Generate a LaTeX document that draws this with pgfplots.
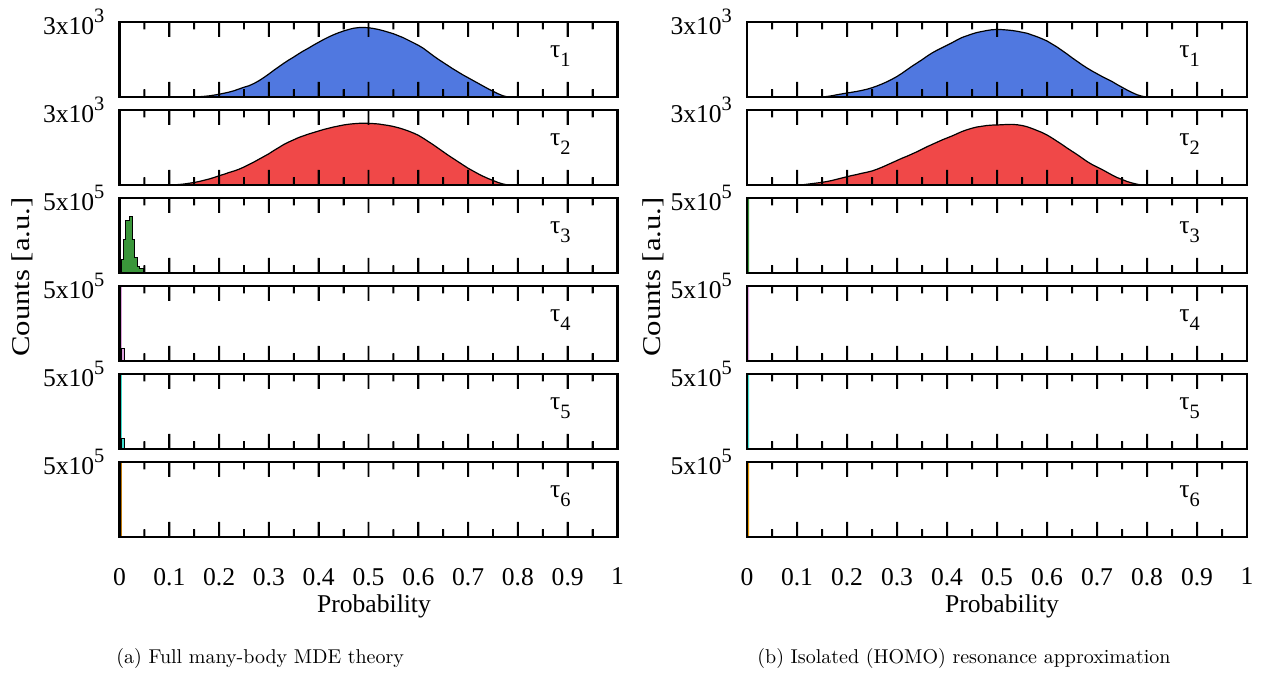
\documentclass[border=0pt]{standalone}
\usepackage{fontspec}
\setmainfont{Liberation Serif}
\newfontfamily\lmr{Latin Modern Roman}
\usepackage{pgfplots}
\usepackage{pgfplotstable}
\pgfplotsset{compat=1.18}
\definecolor{cblue}{RGB}{80,120,224}
\definecolor{cred}{RGB}{240,72,72}
\definecolor{cgreen}{RGB}{58,150,58}
\definecolor{cpink}{RGB}{221,160,221}
\definecolor{ccyan}{RGB}{64,224,208}
\definecolor{corange}{RGB}{230,150,0}
\definecolor{cdorange}{RGB}{190,120,10}
\newcommand\pf{\fontsize{12.8}{15}\selectfont}
\newcommand\sups[1]{\raisebox{6.2pt}{\fontsize{10.2}{11}\selectfont #1}}
\newcommand\subs[1]{\raisebox{-4.2pt}{\fontsize{10.2}{11}\selectfont #1}}
\newcommand\tlab[1]{\node[anchor=base west,inner sep=0pt,font=\pf] at (rel axis cs:0.864,0.52) {τ\subs{#1}};}
% tick marks drawn as thin filled rectangles along the bottom (bs, bb) and top (ts, tb) edges
\pgfplotstableread[row sep=\\]{x bs ts bb tb\\
0 0 3000 0 500000\\
0.048 0 3000 0 500000\\0.048 300 2700 50000 450000\\0.052 300 2700 50000 450000\\0.052 0 3000 0 500000\\
0.098 0 3000 0 500000\\0.098 600 2400 100000 400000\\0.102 600 2400 100000 400000\\0.102 0 3000 0 500000\\
0.148 0 3000 0 500000\\0.148 300 2700 50000 450000\\0.152 300 2700 50000 450000\\0.152 0 3000 0 500000\\
0.198 0 3000 0 500000\\0.198 600 2400 100000 400000\\0.202 600 2400 100000 400000\\0.202 0 3000 0 500000\\
0.248 0 3000 0 500000\\0.248 300 2700 50000 450000\\0.252 300 2700 50000 450000\\0.252 0 3000 0 500000\\
0.298 0 3000 0 500000\\0.298 600 2400 100000 400000\\0.302 600 2400 100000 400000\\0.302 0 3000 0 500000\\
0.348 0 3000 0 500000\\0.348 300 2700 50000 450000\\0.352 300 2700 50000 450000\\0.352 0 3000 0 500000\\
0.398 0 3000 0 500000\\0.398 600 2400 100000 400000\\0.402 600 2400 100000 400000\\0.402 0 3000 0 500000\\
0.448 0 3000 0 500000\\0.448 300 2700 50000 450000\\0.452 300 2700 50000 450000\\0.452 0 3000 0 500000\\
0.498 0 3000 0 500000\\0.498 600 2400 100000 400000\\0.502 600 2400 100000 400000\\0.502 0 3000 0 500000\\
0.548 0 3000 0 500000\\0.548 300 2700 50000 450000\\0.552 300 2700 50000 450000\\0.552 0 3000 0 500000\\
0.598 0 3000 0 500000\\0.598 600 2400 100000 400000\\0.602 600 2400 100000 400000\\0.602 0 3000 0 500000\\
0.648 0 3000 0 500000\\0.648 300 2700 50000 450000\\0.652 300 2700 50000 450000\\0.652 0 3000 0 500000\\
0.698 0 3000 0 500000\\0.698 600 2400 100000 400000\\0.702 600 2400 100000 400000\\0.702 0 3000 0 500000\\
0.748 0 3000 0 500000\\0.748 300 2700 50000 450000\\0.752 300 2700 50000 450000\\0.752 0 3000 0 500000\\
0.798 0 3000 0 500000\\0.798 600 2400 100000 400000\\0.802 600 2400 100000 400000\\0.802 0 3000 0 500000\\
0.848 0 3000 0 500000\\0.848 300 2700 50000 450000\\0.852 300 2700 50000 450000\\0.852 0 3000 0 500000\\
0.898 0 3000 0 500000\\0.898 600 2400 100000 400000\\0.902 600 2400 100000 400000\\0.902 0 3000 0 500000\\
0.948 0 3000 0 500000\\0.948 300 2700 50000 450000\\0.952 300 2700 50000 450000\\0.952 0 3000 0 500000\\
1 0 3000 0 500000\\
}\tk
\pgfplotsset{
  panel/.style={
    scale only axis, height=37.5pt, anchor=south west,
    xmin=0, xmax=1, ymin=0,
    scaled y ticks=false,
    xtick={0,0.1,0.2,0.3,0.4,0.5,0.6,0.7,0.8,0.9,1},
    minor x tick num=1, xticklabels={},
    axis on top,
    axis line style={line width=1.2pt},
    major tick length=7.5pt, minor tick length=3.75pt,
    tick style={black, line width=0.9pt},
    yticklabel style={font=\pf, xshift=-4pt},
    xticklabel style={font=\pf, yshift=-12pt},
  },
  small/.style={ymax=3000, ytick={3000}, yticklabels={3x10\sups{3}}},
  big/.style={ymax=500000, ytick={500000}, yticklabels={5x10\sups{5}}},
  bottom/.style={xticklabels={0,0.1,0.2,0.3,0.4,0.5,0.6,0.7,0.8,0.9,1}},
  hist/.style={sharp plot, mark=none, draw=black, line width=0.6pt, fill=#1},
  bars/.style={const plot, mark=none, draw=black, line width=0.5pt, fill=#1},
  sliver/.style={const plot, mark=none, draw=none, fill=#1},
  tkf/.style={sharp plot, mark=none, draw=none, fill=black},
}
\newcommand\tks{\addplot[tkf] table[x=x,y=bs] {\tk}; \addplot[tkf] table[x=x,y=ts] {\tk};}
\newcommand\tkb{\addplot[tkf] table[x=x,y=bb] {\tk}; \addplot[tkf] table[x=x,y=tb] {\tk};}
\begin{document}
\begin{tikzpicture}
\path (0,0) rectangle (632pt,336.5pt);
% ---------------- LEFT (a) ----------------
\begin{axis}[panel, small, width=249pt, at={(59.75pt,288pt)}]
\addplot[hist=cblue] coordinates {(0.15,0)(0.16,10)(0.17,25)(0.18,45)(0.19,75)(0.20,110)(0.21,150)(0.22,195)(0.23,250)(0.24,320)(0.25,390)(0.26,450)(0.27,540)(0.28,650)(0.29,780)(0.30,920)(0.31,1070)(0.32,1210)(0.33,1350)(0.34,1480)(0.35,1600)(0.36,1730)(0.37,1850)(0.38,1960)(0.39,2080)(0.40,2190)(0.41,2300)(0.42,2400)(0.43,2490)(0.44,2570)(0.45,2640)(0.46,2700)(0.47,2750)(0.48,2775)(0.49,2780)(0.50,2770)(0.51,2740)(0.52,2700)(0.53,2650)(0.54,2590)(0.55,2530)(0.56,2450)(0.57,2370)(0.58,2270)(0.59,2170)(0.60,2070)(0.61,1950)(0.62,1800)(0.63,1650)(0.64,1510)(0.65,1380)(0.66,1250)(0.67,1120)(0.68,1000)(0.69,880)(0.70,770)(0.71,660)(0.72,550)(0.73,440)(0.74,330)(0.75,230)(0.76,130)(0.77,50)(0.78,0)} \closedcycle;
\tks
\tlab{1}
\end{axis}
\begin{axis}[panel, small, width=249pt, at={(59.75pt,244pt)}]
\addplot[hist=cred] coordinates {(0.11,5)(0.12,20)(0.13,40)(0.14,70)(0.15,100)(0.16,140)(0.17,190)(0.18,240)(0.19,300)(0.20,370)(0.21,430)(0.22,500)(0.23,560)(0.24,630)(0.25,720)(0.26,820)(0.27,920)(0.28,1030)(0.29,1140)(0.30,1250)(0.31,1380)(0.32,1500)(0.33,1620)(0.34,1720)(0.35,1810)(0.36,1900)(0.37,1970)(0.38,2040)(0.39,2100)(0.40,2160)(0.41,2220)(0.42,2270)(0.43,2320)(0.44,2360)(0.45,2400)(0.46,2430)(0.47,2450)(0.48,2465)(0.49,2470)(0.50,2465)(0.51,2455)(0.52,2440)(0.53,2410)(0.54,2380)(0.55,2340)(0.56,2290)(0.57,2230)(0.58,2160)(0.59,2080)(0.60,1990)(0.61,1870)(0.62,1740)(0.63,1610)(0.64,1470)(0.65,1330)(0.66,1190)(0.67,1060)(0.68,930)(0.69,800)(0.70,670)(0.71,560)(0.72,450)(0.73,350)(0.74,260)(0.75,180)(0.76,100)(0.77,40)(0.78,0)} \closedcycle;
\tks
\tlab{2}
\end{axis}
\begin{axis}[panel, big, width=249pt, at={(59.75pt,200pt)}]
\addplot[bars=cgreen] coordinates {(0.0044,87000)(0.009,220000)(0.013,350000)(0.0197,375000)(0.0257,220000)(0.0304,100000)(0.0357,40000)(0.041,27000)(0.048,0)} \closedcycle;
\tkb
\tlab{3}
\end{axis}
\begin{axis}[panel, big, width=249pt, at={(59.75pt,156pt)}]
\addplot[sliver=cpink] coordinates {(0,1000000)(0.005,0)} \closedcycle;
\addplot[bars=cpink] coordinates {(0.005,80000)(0.01,0)} \closedcycle;
\tkb
\tlab{4}
\end{axis}
\begin{axis}[panel, big, width=249pt, at={(59.75pt,112pt)}]
\addplot[sliver=ccyan] coordinates {(0,1000000)(0.005,0)} \closedcycle;
\addplot[bars=ccyan] coordinates {(0.005,70000)(0.01,0)} \closedcycle;
\tkb
\tlab{5}
\end{axis}
\begin{axis}[panel, big, bottom, width=249pt, at={(59.75pt,68pt)}]
\addplot[sliver=cdorange] coordinates {(0,1000000)(0.005,0)} \closedcycle;
\tkb
\tlab{6}
\end{axis}
% ---------------- RIGHT (b) ----------------
\begin{axis}[panel, small, width=250pt, at={(373.5pt,288pt)}]
\addplot[hist=cblue] coordinates {(0.15,0)(0.16,20)(0.17,50)(0.18,90)(0.19,125)(0.20,160)(0.21,190)(0.22,225)(0.23,265)(0.24,310)(0.25,370)(0.26,440)(0.27,520)(0.28,610)(0.29,710)(0.30,820)(0.31,950)(0.32,1090)(0.33,1230)(0.34,1360)(0.35,1490)(0.36,1630)(0.37,1760)(0.38,1870)(0.39,1970)(0.40,2070)(0.41,2170)(0.42,2280)(0.43,2380)(0.44,2450)(0.45,2520)(0.46,2580)(0.47,2620)(0.48,2660)(0.49,2690)(0.50,2700)(0.51,2695)(0.52,2680)(0.53,2660)(0.54,2630)(0.55,2590)(0.56,2550)(0.57,2480)(0.58,2410)(0.59,2330)(0.60,2240)(0.61,2120)(0.62,2000)(0.63,1860)(0.64,1720)(0.65,1570)(0.66,1430)(0.67,1290)(0.68,1160)(0.69,1040)(0.70,930)(0.71,820)(0.72,720)(0.73,620)(0.74,500)(0.75,390)(0.76,280)(0.77,180)(0.78,90)(0.79,30)(0.80,0)} \closedcycle;
\tks
\tlab{1}
\end{axis}
\begin{axis}[panel, small, width=250pt, at={(373.5pt,244pt)}]
\addplot[hist=cred] coordinates {(0.11,5)(0.12,30)(0.13,55)(0.14,80)(0.15,105)(0.16,140)(0.17,180)(0.18,230)(0.19,280)(0.20,330)(0.21,380)(0.22,420)(0.23,470)(0.24,510)(0.25,560)(0.26,630)(0.27,710)(0.28,800)(0.29,890)(0.30,980)(0.31,1070)(0.32,1150)(0.33,1240)(0.34,1330)(0.35,1430)(0.36,1530)(0.37,1620)(0.38,1710)(0.39,1800)(0.40,1880)(0.41,1960)(0.42,2050)(0.43,2140)(0.44,2210)(0.45,2270)(0.46,2320)(0.47,2350)(0.48,2380)(0.49,2395)(0.50,2400)(0.51,2410)(0.52,2420)(0.53,2425)(0.54,2410)(0.55,2380)(0.56,2330)(0.57,2260)(0.58,2180)(0.59,2100)(0.60,2000)(0.61,1880)(0.62,1750)(0.63,1620)(0.64,1480)(0.65,1350)(0.66,1220)(0.67,1080)(0.68,940)(0.69,820)(0.70,720)(0.71,620)(0.72,510)(0.73,400)(0.74,300)(0.75,220)(0.76,140)(0.77,80)(0.78,30)(0.79,0)} \closedcycle;
\tks
\tlab{2}
\end{axis}
\begin{axis}[panel, big, width=250pt, at={(373.5pt,200pt)}]
\addplot[sliver=cgreen] coordinates {(0,1000000)(0.004,0)} \closedcycle;
\tkb
\tlab{3}
\end{axis}
\begin{axis}[panel, big, width=250pt, at={(373.5pt,156pt)}]
\addplot[sliver=cpink] coordinates {(0,1000000)(0.004,0)} \closedcycle;
\tkb
\tlab{4}
\end{axis}
\begin{axis}[panel, big, width=250pt, at={(373.5pt,112pt)}]
\addplot[sliver=ccyan] coordinates {(0,1000000)(0.004,0)} \closedcycle;
\tkb
\tlab{5}
\end{axis}
\begin{axis}[panel, big, bottom, width=250pt, at={(373.5pt,68pt)}]
\addplot[sliver=corange] coordinates {(0,1000000)(0.004,0)} \closedcycle;
\tkb
\tlab{6}
\end{axis}
% ---------------- labels ----------------
\node[font=\pf, anchor=base] at (187pt,30pt) {Probability};
\node[font=\pf, anchor=base] at (501pt,30pt) {Probability};
\node[font=\pf, rotate=90] at (11pt,198pt) {\scalebox{1.2}[1]{Counts [a.u.]}};
\node[font=\pf, rotate=90] at (326.5pt,198pt) {\scalebox{1.2}[1]{Counts [a.u.]}};
\node[font=\lmr\fontsize{10}{12}\selectfont, anchor=base west, inner sep=0pt] at (58pt,4.5pt) {(a) Full many-body MDE theory};
\node[font=\lmr\fontsize{10}{12}\selectfont, anchor=base west, inner sep=0pt] at (378.5pt,4.5pt) {(b) Isolated (HOMO) resonance approximation};
\end{tikzpicture}
\end{document}
